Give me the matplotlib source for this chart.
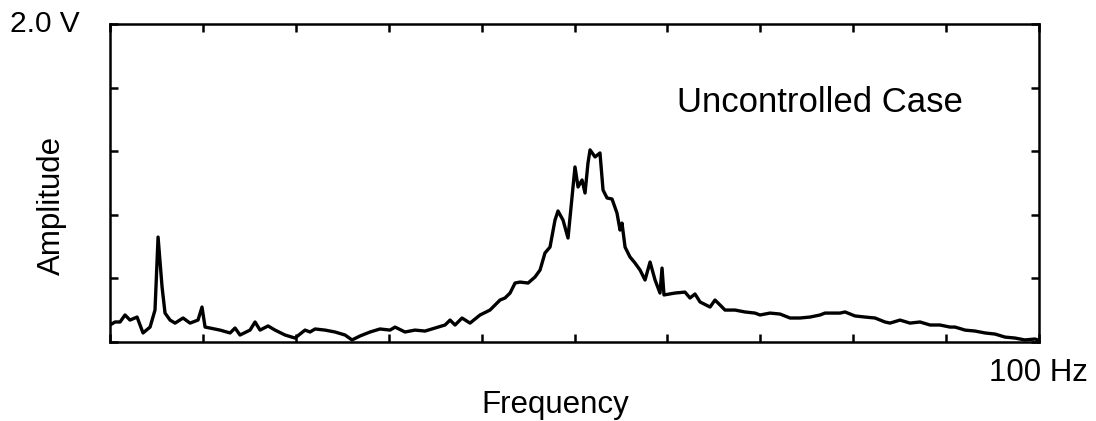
import matplotlib
matplotlib.use("Agg")
import matplotlib.pyplot as plt
import numpy as np

# spectrum (Hz, V)
freq_hz = [0.0, 0.54, 1.08, 1.61, 2.15, 2.91, 3.55, 4.31, 4.84, 5.17, 5.60, 5.92,
           6.46, 7.00, 7.86, 8.61, 9.47, 9.90, 10.23, 10.76, 11.84, 12.92, 13.46,
           13.99, 15.07, 15.61, 16.15, 17.01, 17.76, 18.84, 19.91, 20.99, 21.53,
           22.07, 23.14, 24.22, 25.30, 26.05, 26.91, 27.99, 29.06, 30.14, 30.68,
           31.75, 32.83, 33.91, 34.98, 36.06, 36.60, 37.14, 37.89, 38.75, 39.83,
           40.90, 41.98, 42.52, 43.06, 43.60, 44.13, 45.00, 45.75, 46.29, 46.82,
           47.36, 47.90, 48.22, 48.76, 49.30, 49.73, 50.05, 50.38, 50.81, 51.13,
           51.45, 51.67, 52.21, 52.74, 53.07, 53.50, 54.04, 54.57, 54.90, 55.11,
           55.44, 55.97, 56.51, 57.05, 57.59, 58.13, 58.67, 59.20, 59.42, 59.63,
           60.82, 61.89, 62.43, 62.97, 63.51, 64.59, 65.12, 65.66, 66.20, 67.28,
           68.35, 69.43, 69.97, 71.04, 72.12, 73.20, 74.27, 75.35, 76.43, 76.96,
           78.58, 79.12, 80.19, 81.27, 82.35, 83.42, 83.96, 85.04, 86.11, 87.19,
           88.27, 89.34, 90.42, 90.96, 92.04, 93.11, 94.19, 95.27, 96.34, 97.42,
           98.49, 99.57, 99.89]
amp_v = [0.107, 0.126, 0.126, 0.170, 0.138, 0.157, 0.057, 0.094, 0.201, 0.660,
         0.346, 0.182, 0.138, 0.119, 0.151, 0.119, 0.138, 0.220, 0.094, 0.088,
         0.075, 0.057, 0.088, 0.044, 0.075, 0.126, 0.075, 0.101, 0.075, 0.044,
         0.025, 0.075, 0.063, 0.082, 0.075, 0.063, 0.044, 0.013, 0.038, 0.063,
         0.082, 0.075, 0.094, 0.063, 0.075, 0.069, 0.088, 0.107, 0.138, 0.107,
         0.151, 0.119, 0.170, 0.201, 0.264, 0.277, 0.308, 0.371, 0.377, 0.371,
         0.409, 0.453, 0.560, 0.597, 0.767, 0.824, 0.767, 0.654, 0.912, 1.101,
         0.975, 1.019, 0.937, 1.126, 1.208, 1.164, 1.189, 0.956, 0.906, 0.899,
         0.811, 0.704, 0.748, 0.597, 0.535, 0.497, 0.453, 0.390, 0.503, 0.390,
         0.308, 0.465, 0.296, 0.308, 0.314, 0.277, 0.302, 0.252, 0.220, 0.264,
         0.233, 0.201, 0.201, 0.189, 0.182, 0.170, 0.182, 0.176, 0.151, 0.151,
         0.157, 0.170, 0.182, 0.182, 0.189, 0.164, 0.157, 0.151, 0.126, 0.119,
         0.138, 0.119, 0.126, 0.107, 0.107, 0.094, 0.094, 0.075, 0.069, 0.057,
         0.050, 0.031, 0.025, 0.013, 0.019, 0.013]

x_ticks = np.arange(0, 101, 10)
y_ticks = np.arange(0, 2.01, 0.4)

plt.rcParams["font.family"] = ["Liberation Sans", "DejaVu Sans"]

fig = plt.figure(figsize=(10.96, 4.21), dpi=100)
ax = fig.add_axes([0.1004, 0.1876, 0.8476, 0.7554])

ax.plot(freq_hz, amp_v, color="black", lw=2.4, solid_joinstyle="round")
ax.set_xlim(0, 100)
ax.set_ylim(0, 2.0)
ax.set_xticks(x_ticks)
ax.set_yticks(y_ticks)
ax.tick_params(direction="in", length=6, width=1.8, top=True, right=True,
               labelbottom=False, labelleft=False)
for sp in ax.spines.values():
    sp.set_linewidth(1.8)

ax.text(0.61, 0.752, "Uncontrolled Case", transform=ax.transAxes,
        fontsize=25, ha="left", va="center")
fig.text(10 / 1096, 1 - 24 / 421, "2.0 V", fontsize=21.5, ha="left", va="center")
fig.text(52 / 1096, 1 - 205 / 421, "Amplitude", fontsize=22.5, rotation=90,
         ha="center", va="center")
fig.text(555 / 1096, 1 - 405 / 421, "Frequency", fontsize=22.5,
         ha="center", va="center")
fig.text(1088 / 1096, 1 - 373 / 421, "100 Hz", fontsize=22.5,
         ha="right", va="center")

fig.savefig("out.png", dpi=100)
